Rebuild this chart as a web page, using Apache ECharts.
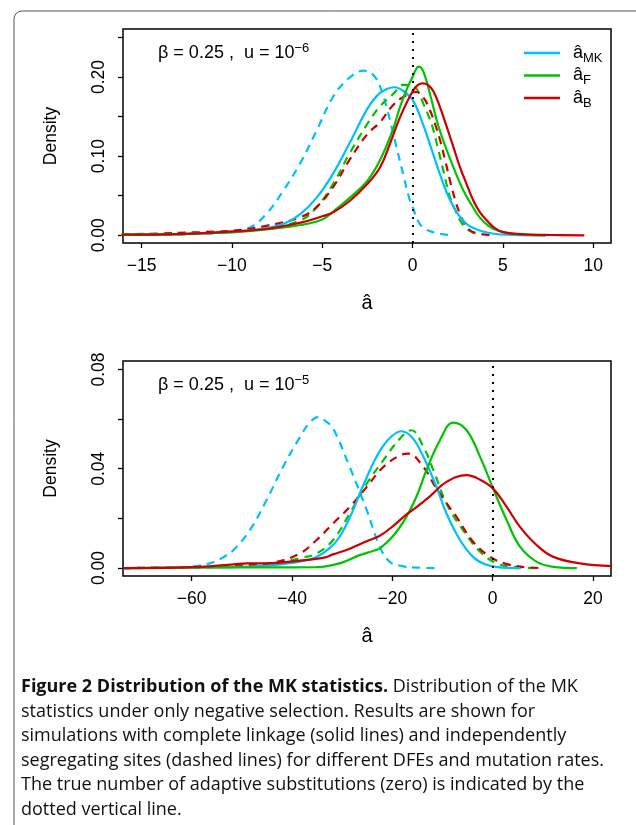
<!DOCTYPE html>
<html>
<head>
<meta charset="utf-8">
<script src="https://cdn.jsdelivr.net/npm/echarts@6.0.0/dist/echarts.min.js"></script>
<style>
html, body { margin: 0; padding: 0; background: #fff; }
#main { width: 636px; height: 825px; }
</style>
</head>
<body>
<div id="main"></div>
<script>
// top panel (beta = 0.25, u = 1e-6) : [a_hat, density]
var topMkSolid = [[-16.1,0.001],[-13,0.0015],[-11,0.003],[-9.9,0.004],[-8.1,0.009],[-7,0.016],[-6.2,0.027],[-5.3,0.048],[-4.4,0.078],[-3.5,0.116],[-2.5,0.160],[-1.9,0.178],[-1.4,0.185],[-1.0,0.187],[-0.5,0.182],[0,0.171],[0.5,0.145],[1,0.112],[1.5,0.078],[2,0.048],[2.5,0.027],[3,0.014],[3.7,0.006],[4.5,0.002],[5.5,0.0006],[7.3,0]];
var topMkDash = [[-16.1,0.0005],[-13,0.001],[-11.5,0.002],[-10.3,0.004],[-9,0.010],[-8.1,0.027],[-7.2,0.055],[-6.2,0.092],[-5.3,0.133],[-4.4,0.175],[-3.5,0.199],[-2.7,0.208],[-2.2,0.203],[-1.8,0.188],[-1.4,0.158],[-0.9,0.112],[-0.5,0.075],[-0.2,0.048],[0,0.036],[0.3,0.018],[0.6,0.009],[1,0.005],[1.5,0.002],[2.2,0]];
var topFSolid = [[-16.1,0.0008],[-13,0.0015],[-9.9,0.004],[-8.1,0.0075],[-6.2,0.013],[-5,0.02],[-4.4,0.03],[-3.5,0.047],[-2.5,0.069],[-1.8,0.095],[-1.1,0.133],[-0.7,0.162],[-0.3,0.186],[0,0.2],[0.15,0.208],[0.32,0.213],[0.5,0.211],[0.7,0.2],[1,0.175],[1.4,0.14],[1.9,0.107],[2.4,0.078],[2.8,0.057],[3.3,0.037],[3.7,0.023],[4.2,0.012],[4.7,0.006],[5.5,0.002],[6.5,0.0005],[7.4,0]];
var topFDash = [[-16.1,0.001],[-13,0.002],[-9.9,0.005],[-8.1,0.009],[-6.2,0.019],[-5.3,0.036],[-4.4,0.065],[-3.5,0.103],[-2.5,0.141],[-1.8,0.163],[-1.1,0.178],[-0.5,0.19],[0,0.189],[0.3,0.182],[0.6,0.166],[0.9,0.15],[1.15,0.133],[1.4,0.11],[1.7,0.082],[2.07,0.048],[2.4,0.03],[2.62,0.019],[2.9,0.01],[3.2,0.005],[3.7,0]];
var topBSolid = [[-16.1,0.0008],[-13,0.0015],[-9.9,0.005],[-8.1,0.008],[-6.2,0.016],[-5,0.024],[-4.4,0.029],[-3.5,0.043],[-2.5,0.065],[-1.8,0.086],[-1.25,0.116],[-0.7,0.149],[0,0.182],[0.3,0.19],[0.56,0.192],[0.85,0.19],[1.15,0.182],[1.5,0.163],[1.89,0.137],[2.25,0.112],[2.62,0.086],[3,0.064],[3.36,0.044],[3.7,0.03],[4.1,0.019],[4.5,0.01],[5,0.004],[6,0.0015],[7.5,0.0005],[9.5,0]];
var topBDash = [[-16.1,0.001],[-13,0.003],[-11.8,0.004],[-9.9,0.006],[-8.1,0.012],[-6.2,0.023],[-5.3,0.036],[-4.4,0.061],[-3.5,0.095],[-2.5,0.128],[-1.8,0.143],[-1.1,0.164],[-0.5,0.175],[0.2,0.181],[0.6,0.174],[0.96,0.158],[1.25,0.14],[1.52,0.12],[1.8,0.095],[2.07,0.069],[2.35,0.045],[2.62,0.027],[2.9,0.014],[3.2,0.006],[3.7,0.002],[4.35,0]];

// bottom panel (beta = 0.25, u = 1e-5)
var botMkSolid = [[-73.7,0],[-60,0.0002],[-51.7,0.0004],[-45,0.001],[-41.8,0.0016],[-38,0.0028],[-35.1,0.0045],[-32.5,0.008],[-30.5,0.0126],[-28,0.0225],[-26.5,0.03],[-25,0.037],[-23.5,0.0435],[-22,0.0487],[-20.2,0.053],[-18.2,0.0551],[-16,0.0525],[-13.8,0.0448],[-11.2,0.0327],[-9.2,0.022],[-6.5,0.0113],[-3.9,0.0045],[-1.5,0.0015],[1,0.0004],[5.4,0]];
var botMkDash = [[-73.7,0],[-65,0.0001],[-61.7,0.0003],[-58.5,0.001],[-56.4,0.0019],[-54,0.004],[-51.7,0.0072],[-48.4,0.0153],[-45.1,0.0273],[-41.8,0.0407],[-38.4,0.0528],[-36.5,0.0585],[-34.8,0.0608],[-33.2,0.059],[-31.8,0.0562],[-28.5,0.0407],[-25.1,0.0233],[-22.5,0.0086],[-20.5,0.0025],[-18,0.0008],[-15,0.0002],[-10.8,0]];
var botFSolid = [[-73.7,0],[-58.4,0.0003],[-45,0.0003],[-35.1,0.0004],[-30.5,0.0019],[-26.5,0.0052],[-24,0.0068],[-22.5,0.0079],[-19.8,0.013],[-17.2,0.0206],[-15.2,0.0287],[-13.2,0.0394],[-10.5,0.0515],[-7.86,0.0586],[-5.2,0.0555],[-2.5,0.0448],[0.1,0.032],[2.8,0.0193],[5.45,0.0086],[8.8,0.0025],[12.1,0.0005],[16.8,0]];
var botFDash = [[-73.7,0],[-60,0.0002],[-51.7,0.0008],[-45,0.0016],[-41.8,0.0025],[-38.4,0.004],[-35.1,0.0059],[-31.8,0.0113],[-28.5,0.022],[-25.1,0.034],[-21.8,0.0434],[-18.5,0.0521],[-16.2,0.0555],[-13.8,0.0488],[-11.8,0.0394],[-9.2,0.026],[-5.9,0.0153],[-2.5,0.0066],[0.8,0.0019],[4,0.0005],[8.8,0]];
var botBSolid = [[-73.7,0],[-65,0.0001],[-58.4,0.0005],[-51.7,0.0015],[-49,0.0019],[-45.1,0.0019],[-38.4,0.003],[-33.6,0.0042],[-31.8,0.0055],[-28.5,0.0078],[-25.1,0.0108],[-22.5,0.013],[-19.8,0.017],[-17.4,0.0212],[-15.8,0.0236],[-12.5,0.0289],[-9.2,0.0347],[-5.2,0.0374],[-2.5,0.0356],[0.1,0.032],[2.8,0.0246],[5.45,0.0166],[8.8,0.0092],[12.1,0.0045],[17.4,0.0019],[23.8,0.0008]];
var botBDash = [[-73.7,0],[-62,0.0002],[-55,0.0005],[-48.4,0.0012],[-43.1,0.0025],[-38.4,0.0059],[-35.1,0.0113],[-31.8,0.018],[-28.5,0.0246],[-25.1,0.0327],[-21.8,0.0407],[-18.5,0.0454],[-16.8,0.0461],[-13.8,0.0407],[-11.8,0.034],[-9.5,0.027],[-7.2,0.0206],[-3.9,0.0106],[-0.5,0.0045],[2.8,0.0016],[6,0.0005],[9.4,0]];

// axis ticks / labels
var topXTicks = [-15, -10, -5, 0, 5, 10];
var topYTicks = [0, 0.05, 0.1, 0.15, 0.2, 0.25];
var topYLabels = [0, 0.1, 0.2];
var botXTicks = [-60, -40, -20, 0, 20];
var botYTicks = [0, 0.02, 0.04, 0.06, 0.08];
var botYLabels = [0, 0.04, 0.08];

var seriesNames = ['MK', 'F', 'B'];

var cMk = '#00BFFF', cF = '#00C400', cB = '#CC0000';
var FONT = '"Liberation Sans", Arial, sans-serif';
var CAP = '"Open Sans", sans-serif';

function xAxis(idx, min, max, ticks) {
  return {
    type: 'value', gridIndex: idx, min: min, max: max,
    name: 'â', nameLocation: 'middle', nameGap: 50,
    nameTextStyle: { fontFamily: FONT, fontSize: 20, color: '#000' },
    axisLine: { show: false, onZero: false },
    axisTick: { show: true, length: 5, customValues: ticks, lineStyle: { color: '#000', width: 1.3 } },
    axisLabel: {
      customValues: ticks, margin: 14, fontFamily: FONT, fontSize: 17.5, color: '#000',
      formatter: function (v) { return String(v).replace('-', '−'); }
    },
    splitLine: { show: false }
  };
}

function yAxis(idx, min, max, ticks, labels) {
  return {
    type: 'value', gridIndex: idx, min: min, max: max,
    name: 'Density', nameLocation: 'middle', nameGap: 63,
    nameTextStyle: { fontFamily: FONT, fontSize: 17.5, color: '#000' },
    axisLine: { show: false, onZero: false },
    axisTick: { show: true, length: 5, customValues: ticks, lineStyle: { color: '#000', width: 1.3 } },
    axisLabel: {
      customValues: labels, rotate: 90, margin: 15, fontFamily: FONT, fontSize: 17.5, color: '#000',
      formatter: function (v) { return v.toFixed(2); }
    },
    splitLine: { show: false }
  };
}

function line(name, data, color, dashed, idx) {
  return {
    name: name, type: 'line', data: data,
    xAxisIndex: idx, yAxisIndex: idx,
    showSymbol: false, symbol: 'none', smooth: 0.4,
    lineStyle: { color: color, width: 2.2, type: dashed ? [8, 6] : 'solid' },
    itemStyle: { color: color },
    emphasis: { disabled: true }
  };
}

function zeroLine(g) {
  return {
    type: 'line', data: [], silent: true, xAxisIndex: g, yAxisIndex: g,
    markLine: {
      silent: true, symbol: 'none', animation: false,
      label: { show: false },
      lineStyle: { color: '#000', type: [2, 6], width: 2 },
      data: [{ xAxis: 0 }]
    }
  };
}

var series = [];
[0, 1].forEach(function (g) {
  var sets = g === 0
    ? [topMkDash, topFDash, topBDash, topMkSolid, topFSolid, topBSolid]
    : [botMkDash, botFDash, botBDash, botMkSolid, botFSolid, botBSolid];
  series.push(zeroLine(g));
  series.push(line('dMK', sets[0], cMk, true, g));
  series.push(line('dF', sets[1], cF, true, g));
  series.push(line('dB', sets[2], cB, true, g));
  series.push(line('MK', sets[3], cMk, false, g));
  series.push(line('F', sets[4], cF, false, g));
  series.push(line('B', sets[5], cB, false, g));
});

function annot(y, exp) {
  return {
    type: 'text', left: 158, top: y,
    style: {
      text: '{t|β = 0.25 ,  u = 10}{s|' + exp + '}',
      rich: {
        t: { fontFamily: FONT, fontSize: 18, fill: '#000', lineHeight: 22 },
        s: { fontFamily: FONT, fontSize: 13, fill: '#000', verticalAlign: 'top', padding: [0, 0, 10, 0] }
      }
    }
  };
}

var caption = [
  '{b|Figure 2 Distribution of the MK statistics.}{r| Distribution of the MK}',
  '{r|statistics under only negative selection. Results are shown for}',
  '{r|simulations with complete linkage (solid lines) and independently}',
  '{r|segregating sites (dashed lines) for different DFEs and mutation rates.}',
  '{r|The true number of adaptive substitutions (zero) is indicated by the}',
  '{r|dotted vertical line.}'
].join('\n');

var chart = echarts.init(document.getElementById('main'));
chart.setOption({
  animation: false,
  backgroundColor: '#fff',
  grid: [
    { left: 123, top: 29, width: 488, height: 214, show: true, borderColor: '#000', borderWidth: 1.5, backgroundColor: 'transparent' },
    { left: 123, top: 361, width: 488, height: 215, show: true, borderColor: '#000', borderWidth: 1.5, backgroundColor: 'transparent' }
  ],
  xAxis: [xAxis(0, -16.03, 10.98, topXTicks), xAxis(1, -73.7, 23.6, botXTicks)],
  yAxis: [yAxis(0, -0.0097, 0.2606, topYTicks, topYLabels), yAxis(1, -0.0032, 0.0834, botYTicks, botYLabels)],
  legend: {
    data: seriesNames, orient: 'vertical', left: 519, top: 39,
    icon: 'rect', itemWidth: 36, itemHeight: 2.4, itemGap: 2, selectedMode: false,
    formatter: function (n) { return '{h|â}{s|' + n + '}'; },
    textStyle: {
      rich: {
        h: { fontFamily: FONT, fontSize: 18, color: '#000', lineHeight: 18, padding: [0, 0, 0, 8] },
        s: { fontFamily: FONT, fontSize: 13, color: '#000', verticalAlign: 'bottom', padding: [10, 0, 0, 0] }
      }
    }
  },
  graphic: [
    { type: 'rect', shape: { x: 14, y: 11, width: 700, height: 900, r: 8 }, style: { fill: 'none', stroke: '#555', lineWidth: 1 }, silent: true },
    annot(42, '−6'),
    annot(374, '−5'),
    {
      type: 'text', left: 21, top: 678,
      style: {
        text: caption,
        rich: {
          b: { fontFamily: CAP, fontWeight: 'bold', fontSize: 18, fill: '#111', lineHeight: 24.5 },
          r: { fontFamily: CAP, fontSize: 18, fill: '#111', lineHeight: 24.5 }
        }
      }
    }
  ],
  series: series
});
</script>
</body>
</html>
